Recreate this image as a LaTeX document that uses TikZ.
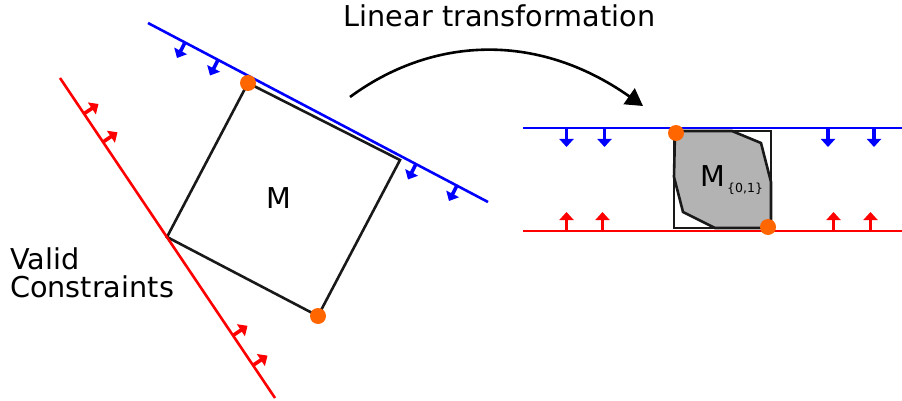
\documentclass[tikz,border=0pt]{standalone}
\usepackage{fontspec}
\setmainfont{DejaVu Sans}
\usetikzlibrary{arrows.meta}
\definecolor{dotorange}{HTML}{FF6600}
\definecolor{polygrey}{HTML}{B3B3B3}
\definecolor{cblue}{HTML}{0000FF}
\definecolor{cred}{HTML}{FF0000}
\begin{document}
\begin{tikzpicture}[x=1pt,y=-1pt,
  bline/.style={cblue,line width=2.6pt},
  rline/.style={cred,line width=2.6pt},
  edge/.style={black!90,line width=2.6pt,line join=miter},
  barrow/.style={cblue,line width=3.6pt,-{Triangle[length=8pt,width=14pt]}},
  rarrow/.style={cred,line width=3.6pt,-{Triangle[length=8pt,width=14pt]}},
  dot/.style={circle,fill=dotorange,inner sep=0pt,minimum size=16pt},
  lbl/.style={font=\fontsize{28.7}{30}\selectfont,inner sep=0pt}]
\useasboundingbox (0,0) rectangle (902,401);

% ---------- left: rotated box and constraints ----------
\coordinate (B1) at (148,23);
\coordinate (B2) at (488,202);
\coordinate (R1) at (60,78);
\coordinate (R2) at (275,398);
\coordinate (Q1) at (248,83);
\coordinate (Q2) at (400,160);
\coordinate (Q3) at (318,316);
\coordinate (Q4) at (167,237);

\draw[edge] (Q1) -- (Q2) -- (Q3) -- (Q4) -- cycle;
\draw[bline] (B1) -- (B2);
\draw[rline] (R1) -- (R2);

% blue arrows (slanted)
\coordinate (ba1) at (185,42.5);  \coordinate (bt1) at (177,58);
\coordinate (ba2) at (218,60);    \coordinate (bt2) at (210,75.5);
\coordinate (ba3) at (416,164);   \coordinate (bt3) at (408,179.5);
\coordinate (ba4) at (457,185.5); \coordinate (bt4) at (449,201);
\foreach \i in {1,...,4} \draw[barrow] (ba\i) -- (bt\i);

% red arrows (slanted)
\coordinate (ra1) at (84,113.7);  \coordinate (rt1) at (98.5,104);
\coordinate (ra2) at (103,142);   \coordinate (rt2) at (117.5,132.3);
\coordinate (ra3) at (233,335.5); \coordinate (rt3) at (247.5,325.8);
\coordinate (ra4) at (253,365.3); \coordinate (rt4) at (267.5,355.6);
\foreach \i in {1,...,4} \draw[rarrow] (ra\i) -- (rt\i);

\node[dot] (d1) at (Q1) {};
\node[dot] (d2) at (Q3) {};

\node[lbl,anchor=base] (m) at (279,208) {M};
\node[lbl,anchor=base west] (valid) at (10,269) {Valid};
\node[lbl,anchor=base west] (constr) at (10,297) {Constraints};

% ---------- title and transformation arrow ----------
\node[lbl,anchor=base] (title) at (499.5,27) {Linear transformation};
\coordinate (c0) at (350,97);
\coordinate (c1) at (643,106);
\draw[black,line width=2.6pt,-{Triangle[length=17pt,width=19pt]}]
  (c0) .. controls (430,38) and (535,30) .. (c1);

% ---------- right: box with polytope ----------
\coordinate (P1) at (675,131);
\coordinate (P2) at (732,131);
\coordinate (P3) at (761,143);
\coordinate (P4) at (771,182);
\coordinate (P5) at (771,228);
\coordinate (P6) at (715,228);
\coordinate (P7) at (683,212);
\coordinate (P8) at (674,177);
\draw[edge,fill=polygrey] (P1) -- (P2) -- (P3) -- (P4) -- (P5) -- (P6) -- (P7) -- (P8) -- cycle;
\draw[edge] (674,131) rectangle (771,228);

\coordinate (H1) at (523,128);
\coordinate (H2) at (902,128);
\coordinate (L1) at (523,231);
\coordinate (L2) at (902,231);
\draw[bline] (H1) -- (H2);
\draw[rline] (L1) -- (L2);

\foreach \x in {566.5,604.5,828,874} \draw[barrow] (\x,128) -- (\x,147);
\foreach \x in {566.5,602.5,833.5,870.5} \draw[rarrow] (\x,231) -- (\x,212);

\node[dot] (d3) at (676,133) {};
\node[dot] (d4) at (768,227) {};

\node[lbl,anchor=base] (m01) at (713,186) {M};
\node[anchor=base west,inner sep=0pt,font=\fontsize{12.5}{13}\selectfont] (sub) at (727,192) {\{0,1\}};
\end{tikzpicture}
\end{document}
